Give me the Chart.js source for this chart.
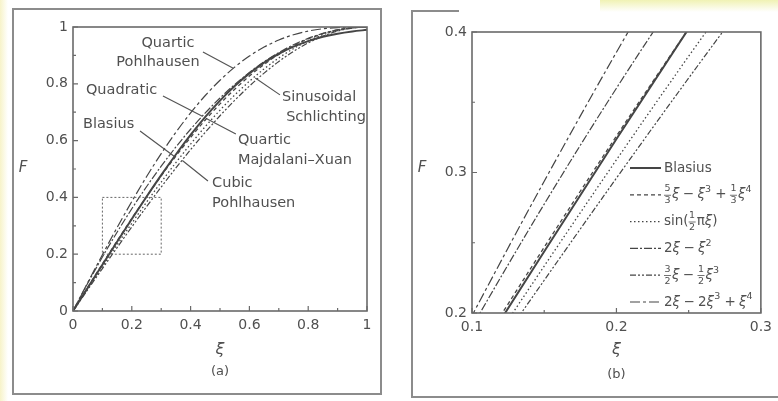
<!DOCTYPE html>
<html>
<head>
<meta charset="utf-8">
<script src="https://cdn.jsdelivr.net/npm/chart.js@4.4.0/dist/chart.umd.min.js"></script>
<style>
html, body { margin: 0; padding: 0; background: #fff; }
#wrap { position: relative; width: 778px; height: 401px; overflow: hidden; background: #fff; }
.ln { position: absolute; background: #8c8c8c; }
canvas { position: absolute; top: 0; }
</style>
</head>
<body>
<div id="wrap">
  <div style="position:absolute;left:0;top:0;width:8px;height:401px;background:linear-gradient(to right,#f7f3c9,#fff)"></div>
  <div style="position:absolute;left:600px;top:0;width:178px;height:12px;background:linear-gradient(to bottom,#f0f2b4,#fff)"></div>
  <!-- panel (a) frame -->
  <div class="ln" style="left:12px;top:8px;width:370px;height:2px"></div>
  <div class="ln" style="left:12px;top:393px;width:370px;height:2px"></div>
  <div class="ln" style="left:12px;top:8px;width:2px;height:387px"></div>
  <div class="ln" style="left:380px;top:8px;width:2px;height:387px"></div>
  <!-- panel (b) frame, cut off on the right -->
  <div class="ln" style="left:411px;top:10px;width:2px;height:388px"></div>
  <div class="ln" style="left:411px;top:10px;width:48px;height:2px"></div>
  <div class="ln" style="left:411px;top:396px;width:367px;height:2px"></div>
  <canvas id="chartA" width="390" height="401" style="left:0;width:390px;height:401px"></canvas>
  <canvas id="chartB" width="388" height="401" style="left:390px;width:388px;height:401px"></canvas>
</div>
<script>
// xi = y / delta, F = u / U
const xi = [0, 0.05, 0.1, 0.15, 0.2, 0.25, 0.3, 0.35, 0.4, 0.45, 0.5,
            0.55, 0.6, 0.65, 0.7, 0.75, 0.8, 0.85, 0.9, 0.95, 1];

const blasius    = [0, 0.0815, 0.1629, 0.2438, 0.3239, 0.4024, 0.4784, 0.5511, 0.6199, 0.6836, 0.7409,
                    0.7921, 0.8367, 0.8748, 0.9058, 0.9307, 0.9503, 0.9654, 0.9765, 0.9843, 0.9899];
const quarticMX  = [0, 0.0832, 0.1657, 0.2468, 0.3259, 0.4023, 0.4757, 0.5455, 0.6112, 0.6725, 0.7292,
                    0.7808, 0.8272, 0.8682, 0.9037, 0.9336, 0.9579, 0.9765, 0.9897, 0.9975, 1];
const sinusoidal = [0, 0.0785, 0.1564, 0.2334, 0.3090, 0.3827, 0.4540, 0.5225, 0.5878, 0.6494, 0.7071,
                    0.7604, 0.8090, 0.8526, 0.8910, 0.9239, 0.9511, 0.9724, 0.9877, 0.9969, 1];
const quadratic  = [0, 0.0975, 0.19, 0.2775, 0.36, 0.4375, 0.51, 0.5775, 0.64, 0.6975, 0.75,
                    0.7975, 0.84, 0.8775, 0.91, 0.9375, 0.96, 0.9775, 0.99, 0.9975, 1];
const cubic      = [0, 0.0749, 0.1495, 0.2233, 0.296, 0.3672, 0.4365, 0.5036, 0.568, 0.6294, 0.6875,
                    0.7418, 0.792, 0.8377, 0.8785, 0.9141, 0.944, 0.9679, 0.9855, 0.9963, 1];
const quarticP   = [0, 0.0998, 0.1981, 0.2938, 0.3856, 0.4727, 0.5541, 0.6293, 0.6976, 0.7588, 0.8125,
                    0.8588, 0.8976, 0.9293, 0.9541, 0.9727, 0.9856, 0.9938, 0.9981, 0.9998, 1];

const xTicksA = [0, 0.2, 0.4, 0.6, 0.8, 1];
const yTicksA = [0, 0.2, 0.4, 0.6, 0.8, 1];
const minorA  = [0.1, 0.3, 0.5, 0.7, 0.9];
const xTicksB = [0.1, 0.2, 0.3];
const yTicksB = [0.2, 0.3, 0.4];
const xMinorB = [0.15, 0.25];
const yMinorB = [0.25, 0.35];

// zoom window of panel (b), shown as dotted box in (a)
const zoomBox = [0.1, 0.2, 0.3, 0.4];

// curve labels of panel (a): text, xi, F, align
const labelsA = [
  ['Quartic', 0.323, 0.944, 'center'],
  ['Pohlhausen', 0.289, 0.877, 'center'],
  ['Sinusoidal', 0.711, 0.754, 'left'],
  ['Schlichting', 0.725, 0.683, 'left'],
  ['Quadratic', 0.044, 0.778, 'left'],
  ['Quartic', 0.561, 0.602, 'left'],
  ['Majdalani\u2013Xuan', 0.561, 0.532, 'left'],
  ['Blasius', 0.034, 0.658, 'left'],
  ['Cubic', 0.473, 0.451, 'left'],
  ['Pohlhausen', 0.473, 0.380, 'left']
];
// leader lines: from label (xi, F) to curve (xi, F)
const leadersA = [
  [0.442, 0.912, 0.545, 0.855],
  [0.704, 0.761, 0.62, 0.82],
  [0.306, 0.757, 0.44, 0.686],
  [0.554, 0.623, 0.455, 0.677],
  [0.228, 0.634, 0.345, 0.544],
  [0.459, 0.458, 0.372, 0.53]
];

const legendB = ['Blasius', '{5/3}\u03be \u2212 \u03be^3 + {1/3}\u03be^4', 'sin({1/2}\u03c0\u03be)',
                 '2\u03be \u2212 \u03be^2', '{3/2}\u03be \u2212 {1/2}\u03be^3', '2\u03be \u2212 2\u03be^3 + \u03be^4'];

const INK = '#454545';
const TXT = '#505050';
const FONT = '"DejaVu Sans", sans-serif';

const styles = [
  { data: blasius,    width: 2,   dash: [] },
  { data: quarticMX,  width: 1.3, dash: [4, 3] },
  { data: sinusoidal, width: 1.3, dash: [1.5, 2.5] },
  { data: quadratic,  width: 1.2, dash: [8, 2, 2, 2] },
  { data: cubic,      width: 1.2, dash: [6, 2, 2, 2, 2, 2] },
  { data: quarticP,   width: 1.2, dash: [10, 3, 3, 3] }
];

function datasets() {
  return styles.map(s => ({
    data: xi.map((x, i) => ({ x: x, y: s.data[i] })),
    borderColor: INK,
    borderWidth: s.width,
    borderDash: s.dash,
    pointRadius: 0,
    fill: false,
    cubicInterpolationMode: 'monotone'
  }));
}

function fmt(v) { return String(+(+v).toFixed(2)); }

function drawRich(ctx, s, x, y) {
  const big = '13.5px ' + FONT, small = '9.5px ' + FONT, ital = 'italic 13.5px ' + FONT;
  ctx.textBaseline = 'middle';
  ctx.textAlign = 'left';
  let i = 0;
  while (i < s.length) {
    const c = s[i];
    if (c === '{') {
      const j = s.indexOf('}', i);
      const [n, d] = s.slice(i + 1, j).split('/');
      ctx.font = small;
      const w = Math.max(ctx.measureText(n).width, ctx.measureText(d).width) + 1;
      ctx.textAlign = 'center';
      ctx.fillText(n, x + w / 2, y - 6);
      ctx.fillText(d, x + w / 2, y + 6);
      ctx.fillRect(x, y, w, 0.8);
      ctx.textAlign = 'left';
      x += w + 1;
      i = j + 1;
    } else if (c === '^') {
      ctx.font = small;
      ctx.fillText(s[i + 1], x, y - 5);
      x += ctx.measureText(s[i + 1]).width + 1;
      i += 2;
    } else {
      ctx.font = c === '\u03be' ? ital : big;
      ctx.fillText(c, x, y);
      x += ctx.measureText(c).width - (c === ' ' ? 1 : 0);
      i++;
    }
  }
}

function decoPlugin(cfg) {
  return {
    id: 'deco',
    afterDraw(chart) {
      const ctx = chart.ctx, ca = chart.chartArea;
      const xs = chart.scales.x, ys = chart.scales.y;
      ctx.save();
      // frame of plotting area
      ctx.strokeStyle = '#6a6a6a';
      ctx.lineWidth = 1.6;
      ctx.setLineDash([]);
      ctx.strokeRect(ca.left, ca.top, ca.right - ca.left, ca.bottom - ca.top);
      // inward ticks
      ctx.lineWidth = 1.2;
      ctx.beginPath();
      cfg.xMajor.concat(cfg.xMinor).forEach(v => {
        const len = cfg.xMajor.includes(v) ? 5 : 3, px = xs.getPixelForValue(v);
        ctx.moveTo(px, ca.bottom); ctx.lineTo(px, ca.bottom - len);
      });
      cfg.yMajor.concat(cfg.yMinor).forEach(v => {
        const len = cfg.yMajor.includes(v) ? 5 : 3, py = ys.getPixelForValue(v);
        ctx.moveTo(ca.left, py); ctx.lineTo(ca.left + len, py);
      });
      ctx.stroke();
      // axis titles and panel tag
      ctx.fillStyle = TXT;
      ctx.textAlign = 'center';
      ctx.textBaseline = 'middle';
      const cx = (ca.left + ca.right) / 2;
      ctx.font = 'italic 15px ' + FONT;
      ctx.fillText('F', ca.left - 50, 168);
      ctx.font = 'italic 16px ' + FONT;
      ctx.fillText('\u03be', cx, 350);
      ctx.font = '13px ' + FONT;
      ctx.fillText(cfg.tag, cx, cfg.tagY);
      if (cfg.extra) cfg.extra(chart, ctx, ca, xs, ys);
      ctx.restore();
    }
  };
}

function makeChart(id, cfg) {
  return new Chart(document.getElementById(id), {
    type: 'line',
    data: { datasets: datasets() },
    options: {
      responsive: false,
      animation: false,
      events: [],
      layout: { padding: cfg.padding },
      plugins: { legend: { display: false }, tooltip: { enabled: false } },
      scales: {
        x: {
          type: 'linear', min: cfg.xMin, max: cfg.xMax,
          afterBuildTicks: s => { s.ticks = cfg.xMajor.map(v => ({ value: v })); },
          afterFit: s => { s.height = cfg.xHeight; },
          ticks: { callback: fmt, font: { family: FONT, size: 14 }, color: TXT, padding: 6, maxRotation: 0, autoSkip: false },
          grid: { display: false, drawTicks: false },
          border: { display: false }
        },
        y: {
          type: 'linear', min: cfg.yMin, max: cfg.yMax,
          afterBuildTicks: s => { s.ticks = cfg.yMajor.map(v => ({ value: v })); },
          afterFit: s => { s.width = cfg.yWidth; },
          ticks: { callback: fmt, font: { family: FONT, size: 14 }, color: TXT, padding: 5, autoSkip: false },
          grid: { display: false, drawTicks: false },
          border: { display: false }
        }
      }
    },
    plugins: [decoPlugin(cfg)]
  });
}

makeChart('chartA', {
  xMin: 0, xMax: 1, yMin: 0, yMax: 1,
  xMajor: xTicksA, xMinor: minorA, yMajor: yTicksA, yMinor: minorA,
  padding: { left: 0, top: 27, right: 23, bottom: 0 },
  yWidth: 73, xHeight: 90, tag: '(a)', tagY: 372,
  extra: (chart, ctx, ca, xs, ys) => {
    // dotted zoom box
    ctx.strokeStyle = '#666';
    ctx.lineWidth = 1;
    ctx.setLineDash([2, 2]);
    const x1 = xs.getPixelForValue(zoomBox[0]), y1 = ys.getPixelForValue(zoomBox[1]);
    const x2 = xs.getPixelForValue(zoomBox[2]), y2 = ys.getPixelForValue(zoomBox[3]);
    ctx.strokeRect(x1, y2, x2 - x1, y1 - y2);
    ctx.setLineDash([]);
    // leaders
    ctx.strokeStyle = '#555';
    ctx.lineWidth = 1.2;
    ctx.beginPath();
    leadersA.forEach(l => {
      ctx.moveTo(xs.getPixelForValue(l[0]), ys.getPixelForValue(l[1]));
      ctx.lineTo(xs.getPixelForValue(l[2]), ys.getPixelForValue(l[3]));
    });
    ctx.stroke();
    // labels
    ctx.fillStyle = TXT;
    ctx.font = '14.5px ' + FONT;
    ctx.textBaseline = 'middle';
    labelsA.forEach(t => {
      ctx.textAlign = t[3];
      ctx.fillText(t[0], xs.getPixelForValue(t[1]), ys.getPixelForValue(t[2]));
    });
  }
});

makeChart('chartB', {
  xMin: 0.1, xMax: 0.3, yMin: 0.2, yMax: 0.4,
  xMajor: xTicksB, xMinor: xMinorB, yMajor: yTicksB, yMinor: yMinorB,
  padding: { left: 0, top: 32, right: 11, bottom: 0 },
  yWidth: 82, xHeight: 88, tag: '(b)', tagY: 375,
  extra: (chart, ctx, ca) => {
    // legend
    const lx = ca.left + 158, ly = ca.top + 136, row = 26.8;
    ctx.fillStyle = TXT;
    legendB.forEach((t, i) => {
      const y = ly + i * row;
      ctx.strokeStyle = INK;
      ctx.lineWidth = styles[i].width;
      ctx.setLineDash(styles[i].dash);
      ctx.beginPath();
      ctx.moveTo(lx, y); ctx.lineTo(lx + 31, y);
      ctx.stroke();
      drawRich(ctx, t, lx + 34, y);
    });
    ctx.setLineDash([]);
  }
});
</script>
</body>
</html>
